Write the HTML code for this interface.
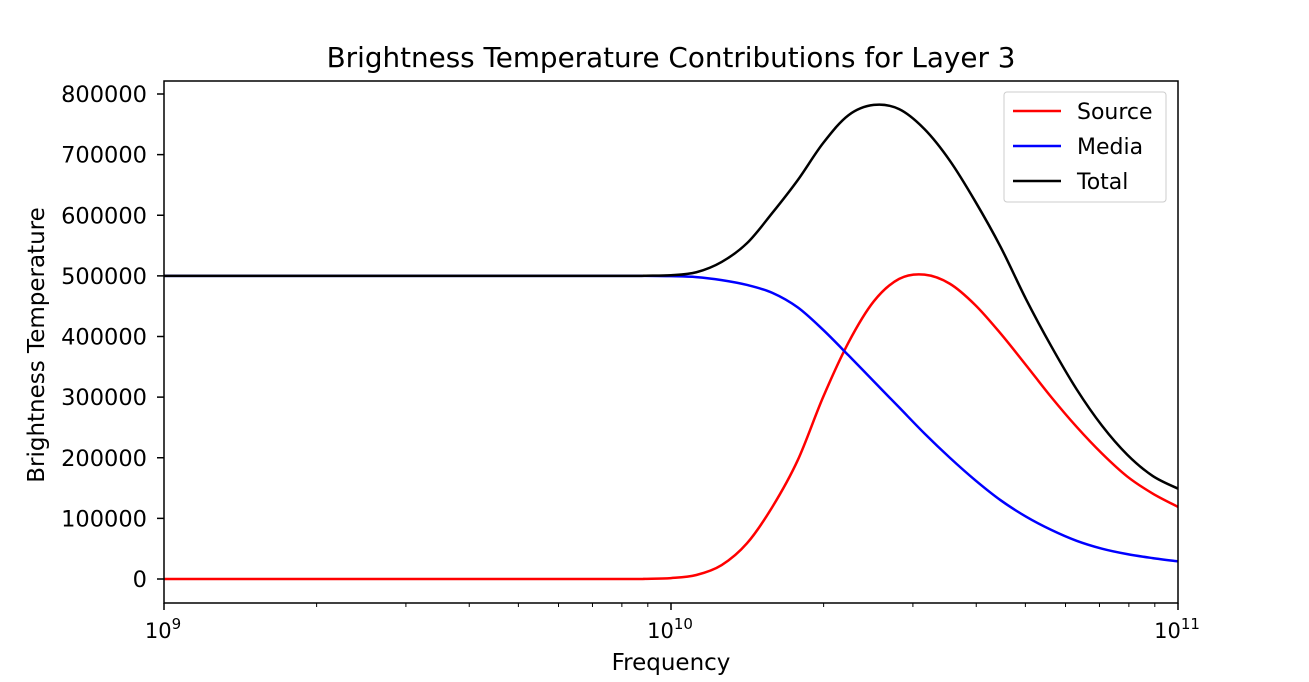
<!DOCTYPE html>
<html><head><meta charset="utf-8"><style>
body{margin:0;background:#fff;}
svg text{font-family:"DejaVu Sans","Liberation Sans",sans-serif;fill:#000;}
</style></head><body>
<svg id="chart" width="1309" height="677" xmlns="http://www.w3.org/2000/svg">
<rect width="1309" height="677" fill="#fff"/>
<text x="671" y="67" font-size="27.8" text-anchor="middle">Brightness Temperature Contributions for Layer 3</text>
<text x="671" y="670" font-size="23" text-anchor="middle">Frequency</text>
<text transform="translate(44,345) rotate(-90)" font-size="23" text-anchor="middle">Brightness Temperature</text>
<g id="axes"></g>
<g id="series"></g>
<rect x="164" y="81" width="1014" height="522" fill="none" stroke="#000" stroke-width="1.5"/>
<g>
<rect x="1004" y="92" width="162" height="110" fill="#fff" stroke="#ccc" rx="3"/>
<line x1="1013" y1="111" x2="1061" y2="111" stroke="#f00" stroke-width="2.5"/>
<text x="1077" y="119" font-size="22">Source</text>
<line x1="1013" y1="146" x2="1061" y2="146" stroke="#00f" stroke-width="2.5"/>
<text x="1077" y="154" font-size="22">Media</text>
<line x1="1013" y1="181" x2="1061" y2="181" stroke="#000" stroke-width="2.5"/>
<text x="1077" y="189" font-size="22">Total</text>
</g>
</svg>
<script>
const logFreq=[9.0,9.5,9.9,9.95,10.0,10.05,10.1,10.15,10.2,10.25,10.3,10.35,10.4,10.45,10.5,10.55,10.6,10.65,10.7,10.75,10.8,10.85,10.9,10.95,11.0];
const sourceVals=[0,0,0,300,1500,6600,23000,59000,119000,196000,300000,390000,458000,495000,502000,487000,452000,405000,353000,300000,251000,207000,169000,141000,119000];
const mediaVals=[500000,500000,500000,500000,499500,498000,493000,485000,472000,448000,411000,369000,326000,283000,240000,200000,163000,130000,103000,81000,63000,50000,41000,34500,29000];
const totalVals=[500000,500000,500000,500300,501000,506000,523000,554000,604000,658000,719000,765000,782000,775000,742000,690000,623000,548000,462000,384000,313000,253000,205000,170000,149000];
const yTicks=[0,100000,200000,300000,400000,500000,600000,700000,800000];
const xMajor=[9,10,11];
const NS="http://www.w3.org/2000/svg";
const X=l=>164+(l-9)*507;
const Y=v=>579-v/100000*60.625;
const axes=document.getElementById('axes');
function mk(t,a,p){const e=document.createElementNS(NS,t);for(const k in a)e.setAttribute(k,a[k]);p.appendChild(e);return e;}
yTicks.forEach(v=>{
  const g=mk('g',{},axes);
  
  
  mk('line',{x1:157,x2:164,y1:Y(v),y2:Y(v),stroke:'#000','stroke-width':1.5},g);
  const t=mk('text',{x:147,y:Y(v)+8,'font-size':22.5,'text-anchor':'end'},g);t.textContent=v;
});
xMajor.forEach(l=>{
  const g=mk('g',{},axes);
  
  
  mk('line',{x1:X(l),x2:X(l),y1:603,y2:610,stroke:'#000','stroke-width':1.5},g);
  const t=mk('text',{x:X(l)-1,y:638,'font-size':21,'text-anchor':'middle'},g);
  t.textContent='10';
  const s=mk('tspan',{'font-size':15,dy:-9},t);s.textContent=l;
  if(l<11)for(let m=2;m<=9;m++){const xx=X(l+Math.log10(m));mk('line',{x1:xx,x2:xx,y1:603,y2:607,stroke:'#000'},axes);}
});
function path(vals){
  const p=logFreq.map((l,i)=>[X(l),Y(vals[i])]);
  let d='M'+p[0][0]+','+p[0][1];
  for(let i=0;i<p.length-1;i++){
    const p0=p[Math.max(0,i-1)],p1=p[i],p2=p[i+1],p3=p[Math.min(p.length-1,i+2)];
    const c1=[p1[0]+(p2[0]-p0[0])/6,p1[1]+(p2[1]-p0[1])/6];
    const c2=[p2[0]-(p3[0]-p1[0])/6,p2[1]-(p3[1]-p1[1])/6];
    d+=` C${c1[0]},${c1[1]} ${c2[0]},${c2[1]} ${p2[0]},${p2[1]}`;
  }
  return d;
}
const series=document.getElementById('series');
[['source-line',sourceVals,'#f00'],['media-line',mediaVals,'#00f'],['total-line',totalVals,'#000']].forEach(s=>{
  const e=mk('path',{d:path(s[1]),fill:'none',stroke:s[2],'stroke-width':2.5},series);
  
  
});
</script>
</body></html>
